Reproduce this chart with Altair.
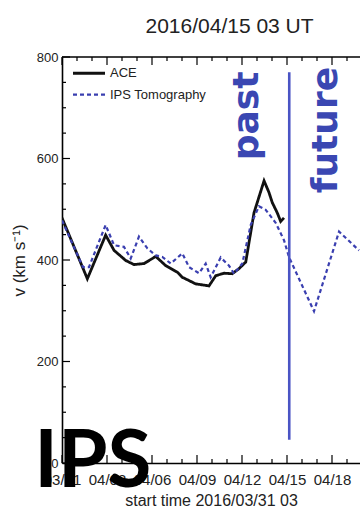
import altair as alt
import pandas as pd

# ---- data (days since 2016/03/31 03 UT, km/s) ----
ace_days = [0, 1.69, 2.91, 3.47, 4.25, 4.8, 5.47, 6.25, 6.91, 7.69, 8.02, 8.91, 9.8,
            10.25, 10.8, 11.35, 11.8, 12.25, 12.8, 13.47, 13.8, 14.02, 14.35, 14.58, 14.8]
ace_speed = [483, 363, 449, 419, 399, 391, 393, 407, 389, 376, 366, 353, 349,
             369, 374, 373, 383, 396, 493, 556, 533, 513, 493, 476, 483]

ips_days = [0, 1.4, 1.8, 2.91, 3.47, 4.13, 4.58, 5.13, 5.69, 6.25, 6.69, 7.25, 8.02,
            8.47, 9.13, 9.58, 9.91, 10.58, 11.13, 11.47, 12.02, 12.58, 13.13, 13.58,
            14.25, 14.8, 15.13, 16.8, 18.47, 19.8]
ips_speed = [478, 386, 386, 469, 429, 426, 403, 446, 423, 409, 406, 393, 413,
             386, 374, 393, 366, 405, 389, 373, 393, 469, 506, 499,
             473, 439, 406, 299, 456, 419]

series_names = ["ACE", "IPS Tomography"]
x_tick_days = [0, 3, 6, 9, 12, 15, 18]
x_tick_labels = ["03/31", "04/03", "04/06", "04/09", "04/12", "04/15", "04/18"]
y_tick_values = [0, 200, 400, 600, 800]
now_day = 15.15
now_span = [46, 770]
note_texts = ["past", "future"]
note_days = [12.3, 17.6]
note_speed = [684, 656]
badge_text = ["IPS"]
badge_day = [2.05]
badge_speed = [-48]
title_text = ["2016/04/15 03 UT"]
title_day = [11.17]
title_speed = [848]
legend_speed = [768, 726]
x_title = "start time 2016/03/31 03"
y_title = "v (km s\u207b\u00b9)"

# ---- layout / style ----
PX_PER_DAY = 15.0
W, H = 298, 406
X_MAX = W / PX_PER_DAY
Y_MAX = 800
BLUE_LINE = "#3a3fb0"
BLUE_RULE = "#4a54c4"
BLUE_TEXT = "#3a47b2"
INK = "#222222"

lines = pd.concat([
    pd.DataFrame({"day": ace_days, "v": ace_speed, "series": series_names[0]}),
    pd.DataFrame({"day": ips_days, "v": ips_speed, "series": series_names[1]}),
])

xs = alt.Scale(domain=[0, X_MAX], nice=False, zero=False)
ys = alt.Scale(domain=[0, Y_MAX], nice=False)

label_arr = "[" + ",".join("'%s'" % s for s in x_tick_labels) + "]"
label_expr = label_arr + "[round(datum.value/3)]"

base_x = alt.X("day:Q", scale=xs,
               axis=alt.Axis(values=x_tick_days, labelExpr=label_expr, title=x_title))
base_y = alt.Y("v:Q", scale=ys, axis=alt.Axis(values=y_tick_values, title=y_title))

color_scale = alt.Scale(domain=series_names, range=["#111111", BLUE_LINE])
dash_scale = alt.Scale(domain=series_names, range=[[1, 0], [4, 3]])
width_scale = alt.Scale(domain=series_names, range=[2.8, 2.2])

line_layer = alt.Chart(lines).mark_line(clip=True).encode(
    x=base_x,
    y=base_y,
    color=alt.Color("series:N", scale=color_scale, legend=None),
    strokeDash=alt.StrokeDash("series:N", scale=dash_scale, legend=None),
    strokeWidth=alt.StrokeWidth("series:N", scale=width_scale, legend=None),
)

# manual legend (top-left, inside the plot)
leg = pd.DataFrame({"series": series_names, "v": legend_speed})
leg["a"] = 11 / PX_PER_DAY
leg["b"] = 43 / PX_PER_DAY
leg["tx"] = 48 / PX_PER_DAY
legend_lines = alt.Chart(leg).mark_rule().encode(
    x=alt.X("a:Q", scale=xs), x2="b:Q", y=alt.Y("v:Q", scale=ys),
    color=alt.Color("series:N", scale=color_scale, legend=None),
    strokeDash=alt.StrokeDash("series:N", scale=dash_scale, legend=None),
    strokeWidth=alt.StrokeWidth("series:N", scale=width_scale, legend=None),
)
legend_text = alt.Chart(leg).mark_text(
    align="left", baseline="middle", font="Liberation Sans", fontSize=13, color=INK).encode(
    x=alt.X("tx:Q", scale=xs), y=alt.Y("v:Q", scale=ys), text="series:N")

# tick marks pointing inward (IDL style)
xt = pd.DataFrame({"day": list(range(0, 20))})
xt["len"] = [16 if d % 3 == 0 else 8 for d in xt["day"]]
xt["y0"] = 0
xt["y1"] = xt["len"]
xt["t0"] = Y_MAX
xt["t1"] = Y_MAX - xt["len"]
yt = pd.DataFrame({"v": list(range(0, 801, 50))})
yt["x0"] = 0.0
yt["x1"] = [8 / PX_PER_DAY if v % 200 == 0 else 4 / PX_PER_DAY for v in yt["v"]]

bottom_ticks = alt.Chart(xt).mark_rule(color="black", strokeWidth=1.2).encode(
    x=alt.X("day:Q", scale=xs), y=alt.Y("y0:Q", scale=ys), y2="y1:Q")
top_ticks = alt.Chart(xt).mark_rule(color="black", strokeWidth=1.2).encode(
    x=alt.X("day:Q", scale=xs), y=alt.Y("t0:Q", scale=ys), y2="t1:Q")
left_ticks = alt.Chart(yt).mark_rule(color="black", strokeWidth=1.2).encode(
    y=alt.Y("v:Q", scale=ys), x=alt.X("x0:Q", scale=xs), x2="x1:Q")

top_border = alt.Chart(pd.DataFrame({"a": [0.0], "b": [X_MAX], "v": [Y_MAX]})).mark_rule(
    color="black", strokeWidth=1.6).encode(
    x=alt.X("a:Q", scale=xs), x2="b:Q", y=alt.Y("v:Q", scale=ys))

now_rule = alt.Chart(pd.DataFrame({"day": [now_day], "lo": [now_span[0]], "hi": [now_span[1]]})).mark_rule(
    color=BLUE_RULE, strokeWidth=2.6).encode(
    x=alt.X("day:Q", scale=xs), y=alt.Y("lo:Q", scale=ys), y2="hi:Q")

notes = alt.Chart(pd.DataFrame({"day": note_days, "v": note_speed, "t": note_texts})).mark_text(
    angle=270, font="DejaVu Sans", fontWeight="bold", fontSize=36, color=BLUE_TEXT,
    align="center", baseline="middle").encode(
    x=alt.X("day:Q", scale=xs), y=alt.Y("v:Q", scale=ys), text="t:N")

badge = alt.Chart(pd.DataFrame({"day": badge_day, "v": badge_speed, "t": badge_text})).mark_text(
    font="Lato", fontWeight="bold", fontSize=80, color="black",
    align="center", baseline="alphabetic").encode(
    x=alt.X("day:Q", scale=xs), y=alt.Y("v:Q", scale=ys), text="t:N")

title = alt.Chart(pd.DataFrame({"day": title_day, "v": title_speed, "t": title_text})).mark_text(
    font="Liberation Sans", fontSize=21, color=INK, align="center", baseline="alphabetic").encode(
    x=alt.X("day:Q", scale=xs), y=alt.Y("v:Q", scale=ys), text="t:N")

chart = alt.layer(
    top_border, bottom_ticks, top_ticks, left_ticks, line_layer, now_rule,
    legend_lines, legend_text, notes, title, badge
).properties(
    width=W, height=H,
    autosize=alt.AutoSizeParams(type="none"),
    padding={"left": 62, "top": 57, "right": 0, "bottom": 45},
).configure_view(stroke=None).configure_axis(
    grid=False, ticks=False, tickSize=0, domain=True, domainColor="black", domainWidth=1.6,
    labelFont="Liberation Sans", labelColor=INK, titleFont="Liberation Sans",
    titleFontWeight="normal", titleColor=INK,
).configure_axisX(
    labelFontSize=15, labelPadding=9, titleFontSize=16, titlePadding=5, labelFlush=False,
    labelOverlap=False,
).configure_axisY(
    labelFontSize=13, labelPadding=4, titleFontSize=17, titlePadding=8,
)

chart.save("out.html", embed_options={"renderer": "svg", "actions": False})
